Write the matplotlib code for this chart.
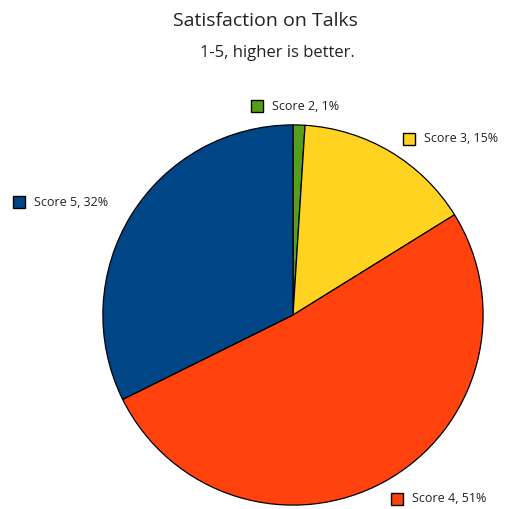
import matplotlib.pyplot as plt
from matplotlib.patches import Rectangle

plt.rcParams['font.family'] = ['Open Sans', 'DejaVu Sans']

# scores, clockwise from the top
labels = ['Score 2', 'Score 3', 'Score 4', 'Score 5']
shares = [1, 15, 51, 32]
colors = ['#579D1C', '#FFD320', '#FF420E', '#004586']

W, H = 514, 509
fig = plt.figure(figsize=(W / 100, H / 100), dpi=100)

# pie axes: centre (293, 315) px, radius 192 px
cx, cy, r = 293, 315, 192
ax = fig.add_axes([(cx - r) / W, (H - cy - r) / H, 2 * r / W, 2 * r / H])
ax.pie(shares, colors=colors, startangle=90, counterclock=False,
       radius=1, wedgeprops=dict(edgecolor='black', linewidth=0.9))
ax.set_xlim(-1.01, 1.01)
ax.set_ylim(-1.01, 1.01)
ax.set_aspect('equal')
ax.axis('off')

fig.text(265 / W, 1 - 21 / H, 'Satisfaction on Talks', ha='center', va='center',
         fontsize=14, color='#222222')
fig.text(277 / W, 1 - 53 / H, '1-5, higher is better.', ha='center', va='center',
         fontsize=12, color='#222222')

# label boxes: top-left corner of the swatch in pixels
label_pos = [(251, 100), (403, 133), (391, 493), (13, 196)]
for name, val, col, (x, y) in zip(labels, shares, colors, label_pos):
    box = 12
    fig.patches.append(Rectangle((x / W, 1 - (y + box) / H), box / W, box / H,
                                 transform=fig.transFigure, facecolor=col,
                                 edgecolor='black', linewidth=1))
    fig.text((x + box + 9) / W, 1 - (y + box / 2) / H, f'{name}, {val}%',
             ha='left', va='center', fontsize=9, color='#222222')

fig.savefig('out.png', dpi=100, facecolor='white')
